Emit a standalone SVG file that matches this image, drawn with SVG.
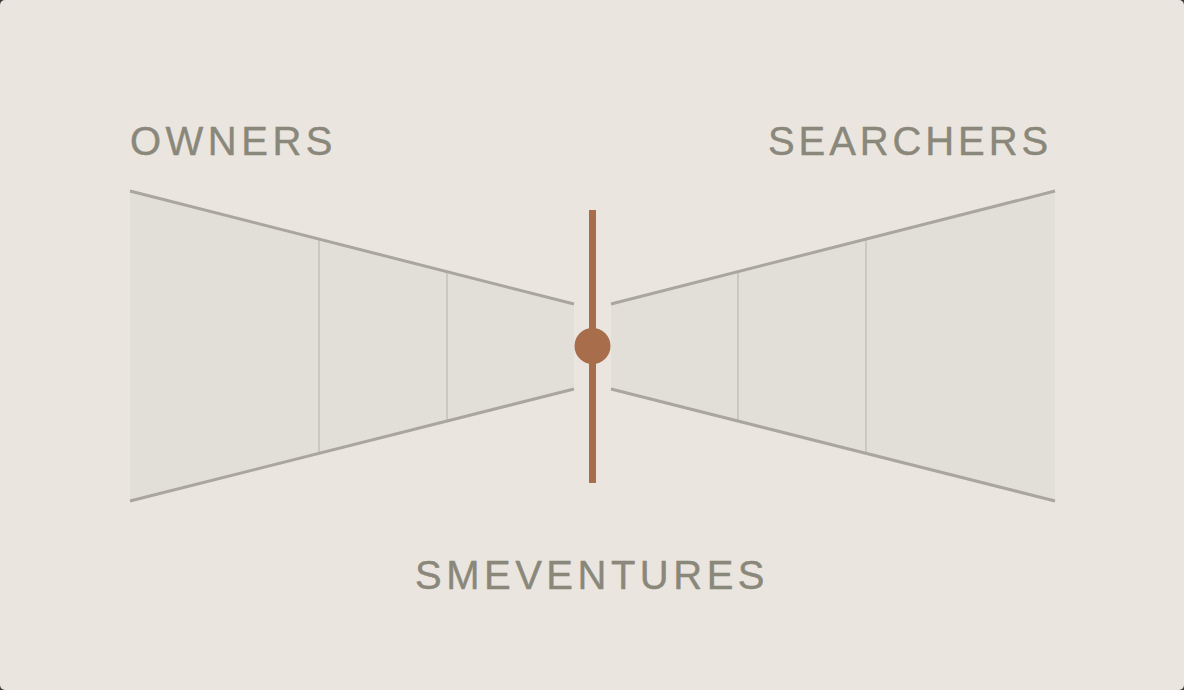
<svg xmlns="http://www.w3.org/2000/svg" width="1184" height="690" viewBox="0 0 1184 690">
<style>
.lbl{font-family:"Liberation Sans",Arial,sans-serif;font-size:40px;fill:#8A877B;letter-spacing:4.5px;stroke:#8A877B;stroke-width:0.4}
.fun{fill:#E2DFD8}
.edge{stroke:#A9A69F;stroke-width:3;fill:none}
.div{stroke:#CCC8C0;stroke-width:2}
</style>
<rect x="0" y="0" width="1184" height="690" fill="#3a3a3a"/>
<rect x="0" y="0" width="1184" height="690" rx="5" fill="#EAE6DF"/>
<g id="owners">
<polygon class="fun" points="130,191 574,304 574,389 130,501"/>
<line class="div" x1="319" y1="239" x2="319" y2="453"/>
<line class="div" x1="447" y1="272" x2="447" y2="420"/>
<line class="edge" x1="130" y1="191" x2="574" y2="304"/>
<line class="edge" x1="130" y1="501" x2="574" y2="389"/>
<text class="lbl" x="130" y="155">OWNERS</text>
</g>
<g id="searchers">
<polygon class="fun" points="1055,191 611,304 611,389 1055,501"/>
<line class="div" x1="866" y1="239" x2="866" y2="453"/>
<line class="div" x1="738" y1="272" x2="738" y2="420"/>
<line class="edge" x1="1055" y1="191" x2="611" y2="304"/>
<line class="edge" x1="1055" y1="501" x2="611" y2="389"/>
<text class="lbl" x="768" y="155" style="letter-spacing:3.9px">SEARCHERS</text>
</g>
<g id="smeventures">
<line x1="592.5" y1="210" x2="592.5" y2="483" stroke="#A86D4B" stroke-width="7"/>
<circle cx="592.5" cy="346" r="18" fill="#A86D4B"/>
<text class="lbl" x="415" y="589">SMEVENTURES</text>
</g>
<g id="connectors"></g>
</svg>
